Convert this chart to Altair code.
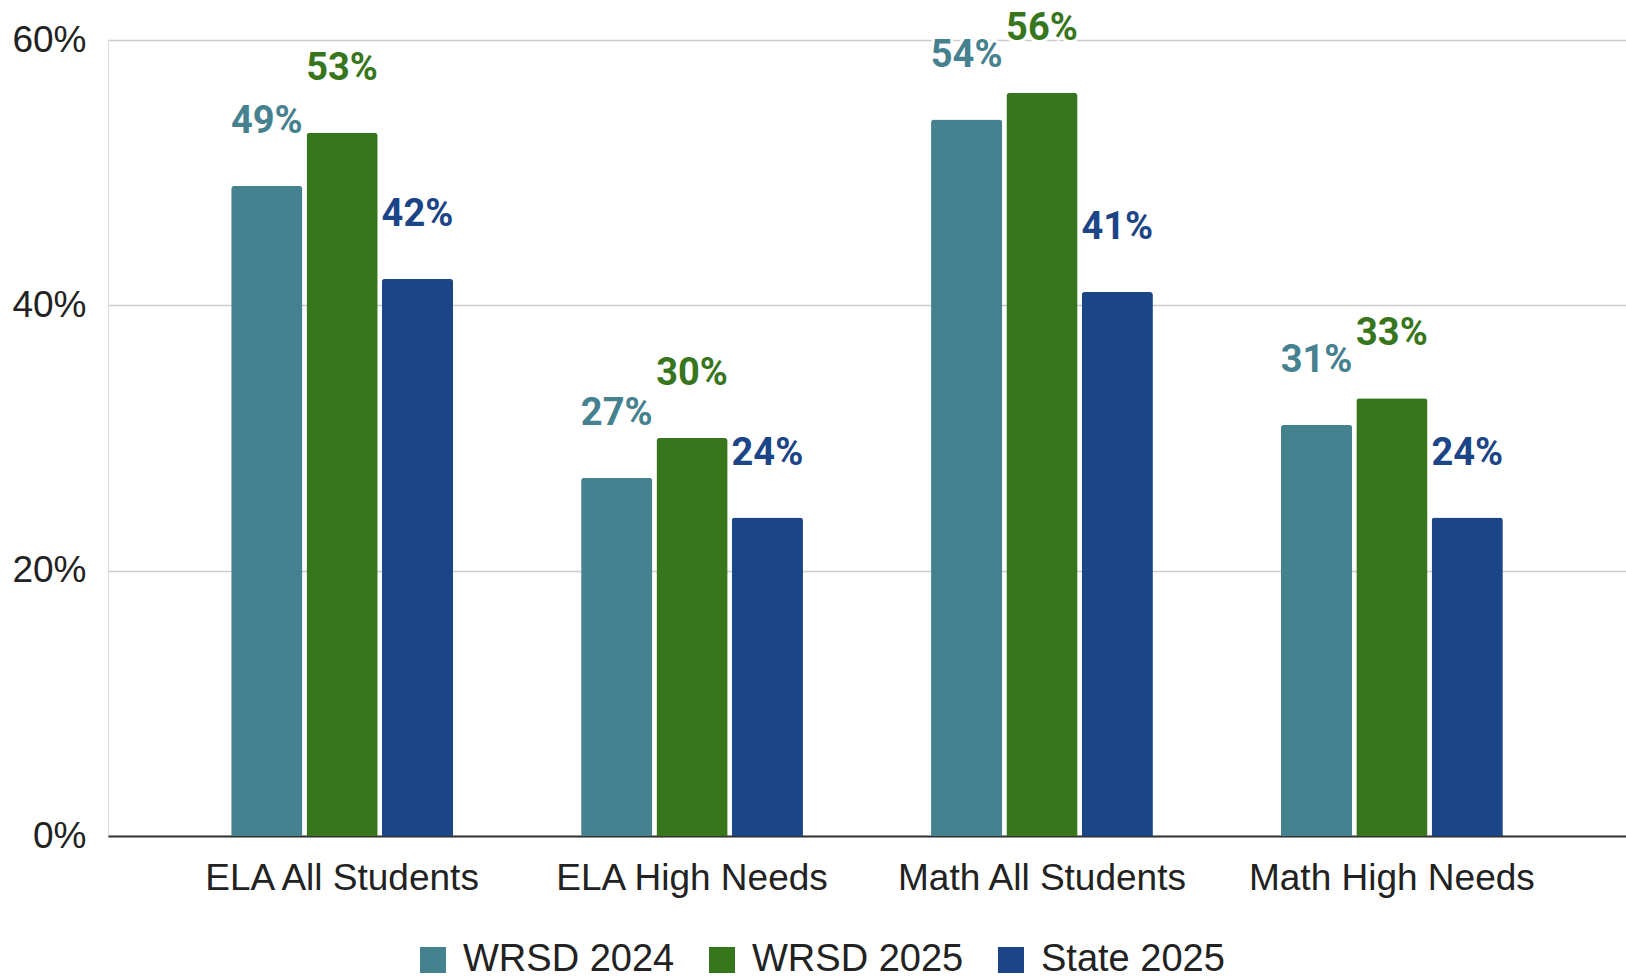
import altair as alt
import pandas as pd

categories = ["ELA All Students", "ELA High Needs", "Math All Students", "Math High Needs"]
series = ["WRSD 2024", "WRSD 2025", "State 2025"]
wrsd_2024 = [49, 27, 54, 31]
wrsd_2025 = [53, 30, 56, 33]
state_2025 = [42, 24, 41, 24]
colors = ["#45818e", "#38761d", "#1c4587"]
y_ticks = [0, 20, 40, 60]

rows = []
for s, vals in zip(series, [wrsd_2024, wrsd_2025, state_2025]):
    for c, v in zip(categories, vals):
        rows.append({"category": c, "series": s, "value": v, "label": f"{v}%"})
df = pd.DataFrame(rows)

x = alt.X("category:N", sort=categories, title=None,
          scale=alt.Scale(paddingInner=0.366, paddingOuter=0.352),
          axis=alt.Axis(labelAngle=0, labelFont="Liberation Sans", labelFontSize=37,
                        labelColor="#222222", labelPadding=24, ticks=False, labelLimit=0,
                        domainColor="#333333", domainWidth=2))
xo = alt.XOffset("series:N", sort=series, scale=alt.Scale(paddingInner=0.055, paddingOuter=0))
y = alt.Y("value:Q", title=None,
          scale=alt.Scale(domain=[0, 60], nice=False),
          axis=alt.Axis(values=y_ticks, labelExpr="datum.value + '%'",
                        labelFont="Liberation Sans", labelFontSize=37, labelColor="#222222",
                        labelPadding=22, ticks=False, domain=False, labelLimit=0,
                        gridColor="#cccccc", gridWidth=1.5))
color = alt.Color("series:N", sort=series,
                  scale=alt.Scale(domain=series, range=colors),
                  legend=alt.Legend(title=None, orient="none", direction="horizontal",
                                    legendX=306, legendY=901,
                                    symbolType="square", symbolSize=676,
                                    symbolStrokeWidth=0, symbolOpacity=1,
                                    labelFont="Liberation Sans", labelFontSize=38,
                                    labelColor="#222222", labelOffset=11, labelLimit=0,
                                    columnPadding=28))

bars = alt.Chart(df).mark_bar(cornerRadiusTopLeft=3, cornerRadiusTopRight=3).encode(
    x=x, xOffset=xo, y=y, color=color)

halo = alt.Chart(df).mark_text(font="Roboto", fontWeight="bold", fontSize=38,
                               baseline="alphabetic", dy=-53, stroke="white",
                               strokeWidth=6, strokeJoin="round").encode(
    x=x, xOffset=xo, y=y, text="label:N",
    color=alt.Color("series:N", sort=series, scale=alt.Scale(domain=series, range=colors), legend=None))

labels = alt.Chart(df).mark_text(font="Roboto", fontWeight="bold", fontSize=38,
                                 baseline="alphabetic", dy=-53).encode(
    x=x, xOffset=xo, y=y, text="label:N",
    color=alt.Color("series:N", sort=series, scale=alt.Scale(domain=series, range=colors), legend=None))

chart = alt.layer(bars, halo, labels).properties(
    width=1518, height=796,
    autosize=alt.AutoSizeParams(type="none"),
    padding={"left": 108, "top": 40, "right": 0, "bottom": 140},
).configure_view(stroke=None).configure(background="white")

chart.save("out.html", embed_options={"renderer": "svg", "actions": False})
